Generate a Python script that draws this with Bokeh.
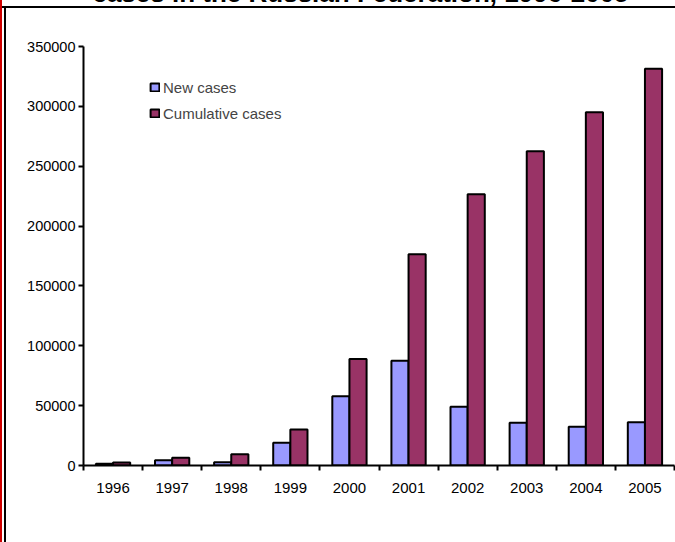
from bokeh.plotting import figure
from bokeh.models import (ColumnDataSource, Range1d, FixedTicker, BasicTickFormatter, Label)
from bokeh.transform import dodge
from bokeh.embed import file_html
from bokeh.resources import INLINE

# ---- data ----
years = ["1996", "1997", "1998", "1999", "2000", "2001", "2002", "2003", "2004", "2005"]
new_cases = [1500, 4300, 2800, 19000, 57900, 87500, 49000, 35700, 32300, 36200]
cumulative_cases = [2500, 6500, 9500, 30000, 89000, 176500, 226500, 262500, 295000, 331500]
y_ticks = [0, 50000, 100000, 150000, 200000, 250000, 300000, 350000]
title_text = "cases in the Russian Federation, 1996-2005"

centers = [i + 0.5 for i in range(len(years))]
src = ColumnDataSource(dict(x=centers, new=new_cases, cum=cumulative_cases, year=years))

FONT = "Liberation Sans"

p = figure(width=675, height=542, output_backend="svg", toolbar_location=None,
           x_range=Range1d(0, len(years)), y_range=Range1d(0, 350000),
           min_border_left=83, min_border_right=1, min_border_top=46, min_border_bottom=77)
p.border_fill_color = None
p.background_fill_color = "white"
p.outline_line_color = None
p.xgrid.visible = False
p.ygrid.visible = False
p.styles = {"box-shadow": "inset 2px 0 0 #d00000, inset 0 6px 0 white, inset 0 8px 0 black, inset 4px 0 0 white, inset 6px 0 0 black"}

bw = 0.29
p.vbar(x=dodge("x", -0.145, range=p.x_range), top="new", width=bw, source=src,
       fill_color="#9999FF", line_color="black", line_width=2, legend_label="New cases")
p.vbar(x=dodge("x", 0.145, range=p.x_range), top="cum", width=bw, source=src,
       fill_color="#993366", line_color="black", line_width=2, legend_label="Cumulative cases")

# y axis
ya = p.yaxis[0]
ya.ticker = FixedTicker(ticks=y_ticks)
ya.formatter = BasicTickFormatter(use_scientific=False)
ya.axis_line_width = 2
ya.major_tick_line_width = 2
ya.major_tick_out = 5
ya.major_tick_in = 0
ya.minor_tick_line_color = None
ya.major_label_standoff = 3
ya.major_label_text_font = FONT
ya.major_label_text_font_size = "14.5px"
ya.major_label_text_color = "black"

# x axis
xa = p.xaxis[0]
xa.ticker = FixedTicker(ticks=centers, minor_ticks=list(range(len(years) + 1)))
xa.major_label_overrides = {c: y for c, y in zip(centers, years)}
xa.axis_line_width = 2
xa.major_tick_line_color = None
xa.major_tick_out = 0
xa.major_tick_in = 0
xa.minor_tick_line_width = 2
xa.minor_tick_out = 5
xa.minor_tick_in = 0
xa.major_label_standoff = 12
xa.major_label_text_font = FONT
xa.major_label_text_font_size = "15px"
xa.major_label_text_color = "black"

# legend
lg = p.legend[0]
lg.location = (66, 342)
lg.border_line_color = None
lg.background_fill_alpha = 0
lg.padding = 0
lg.margin = 0
lg.spacing = 6
lg.glyph_width = 11
lg.glyph_height = 10
lg.label_height = 20
lg.label_standoff = 3
lg.label_text_font = FONT
lg.label_text_font_size = "15px"

# title (cut at the top, as in the source), placed in the top panel
p.add_layout(Label(x=277, y=54, x_units="screen", y_units="screen", text=title_text,
                   text_align="center", text_baseline="alphabetic", text_font=FONT,
                   text_font_size="26px", text_font_style="bold", text_color="black"),
             "above")

open("out.html", "w").write(file_html(p, INLINE))
